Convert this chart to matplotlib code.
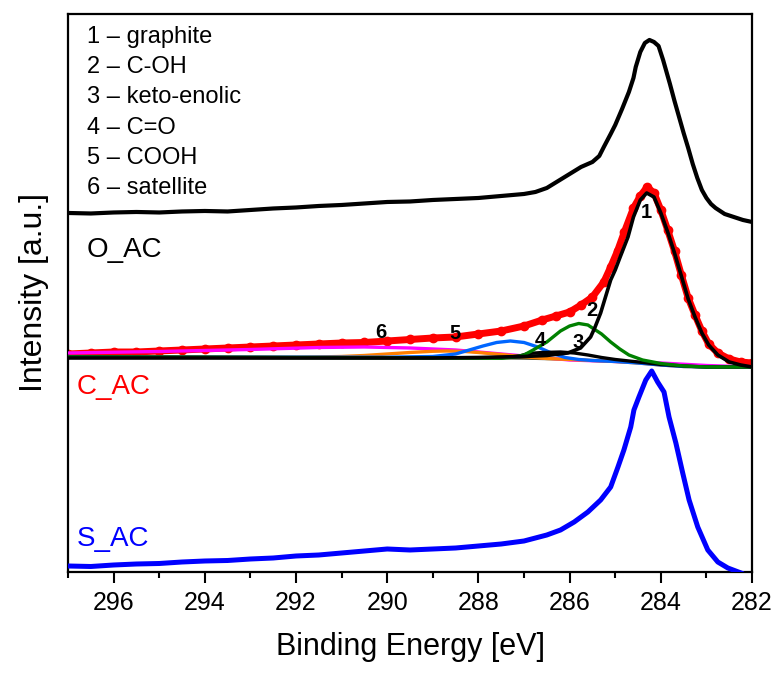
import matplotlib
matplotlib.use("Agg")
import matplotlib.pyplot as plt
from matplotlib.ticker import MultipleLocator

plt.rcParams['font.family'] = ['Liberation Sans', 'DejaVu Sans']

# ---- O_AC spectrum (C 1s), raw intensity and stacking offset ----
E_O = [297.0, 296.5, 296.0, 295.5, 295.0, 294.5, 294.0, 293.5, 293.0, 292.5, 292.0, 291.5,
       291.0, 290.5, 290.0, 289.5, 289.0, 288.5, 288.0, 287.5, 287.0, 286.75, 286.5, 286.25,
       286.0, 285.75, 285.5, 285.35, 285.25, 285.1, 285.0, 284.85, 284.7, 284.6, 284.55,
       284.45, 284.35, 284.25, 284.15, 284.05, 283.95, 283.8, 283.7, 283.6, 283.5, 283.4,
       283.3, 283.2, 283.1, 283.0, 282.9, 282.8, 282.6, 282.4, 282.2, 282.0]
I_O = [9, 8.5, 9.5, 10, 9.5, 10.5, 11, 10.5, 12, 13.5, 14.5, 16, 17, 18.5, 20, 20.5, 22, 23,
       24, 26, 28, 30, 34, 41, 48, 55, 60, 66, 75, 88, 97, 113, 130, 144, 155, 170, 179, 182,
       180, 176, 162, 138, 121, 105, 89, 74, 58, 44, 32, 24, 18, 14, 8, 5, 2, 0]
OFFSET_O = 350

# ---- C_AC measured points ----
E_C = [297.0, 296.5, 296.0, 295.5, 295.0, 294.5, 294.0, 293.5, 293.0, 292.5, 292.0, 291.5,
       291.0, 290.5, 290.0, 289.5, 289.0, 288.5, 288.0, 287.5, 287.0, 286.6, 286.3, 286.0,
       285.75, 285.5, 285.25, 285.1, 284.95, 284.8, 284.6, 284.45, 284.3, 284.15, 284.0,
       283.85, 283.7, 283.55, 283.4, 283.25, 283.1, 282.95, 282.75, 282.5, 282.25, 282.0]
I_C = [13, 14, 15, 15, 16, 17, 18, 19, 20, 21, 22, 23, 24, 24.5, 26, 27.5, 29, 30, 33, 36,
       41, 47, 51, 55, 62, 70, 85, 100, 116, 135, 159, 171, 180, 174, 157, 137, 116, 92, 69,
       52, 36, 23, 14, 8, 5, 4]
OFFSET_C = 205

# ---- C_AC fitted components (on top of background) ----
E_bg = [297.0, 290.0, 288.0, 287.0, 286.0, 285.5, 285.0, 284.5, 284.0, 283.5, 283.0, 282.0]
I_bg = [10, 9.5, 9, 8.5, 7.5, 6.5, 5.5, 4, 2, 0.5, 0, 0]

E_graphite = [297.0, 289.0, 288.0, 287.5, 287.0, 286.5, 286.04, 285.76, 285.54, 285.45, 285.32,
              285.2, 285.1, 285.0, 284.9, 284.72, 284.6, 284.45, 284.31, 284.15, 284.0, 283.85,
              283.7, 283.55, 283.4, 283.25, 283.1, 282.95, 282.75, 282.5, 282.25, 282.0]
I_graphite = [9, 9, 9.5, 10, 10.5, 11.5, 14, 19, 30, 39, 54, 72, 87, 97, 109, 130, 150, 167,
              174, 170, 154, 135, 114, 91, 68, 50, 34, 22, 12, 5, 2, 0]

E_COH = [297.0, 288.0, 287.5, 287.2, 287.0, 286.8, 286.5, 286.2, 286.0, 285.8, 285.6, 285.3,
         285.1, 284.9, 284.7, 284.4, 284.0, 283.5, 283.0, 282.0]
I_COH = [10, 9, 8.7, 10, 12, 17, 25, 36, 41, 43.5, 42, 33, 25, 18, 12, 7, 3.5, 1, 0, 0]

E_keto = [297.0, 288.0, 287.5, 287.1, 286.9, 286.6, 286.2, 285.9, 285.6, 285.3, 285.0, 284.7,
          284.3, 284.0, 283.5, 283.0, 282.0]
I_keto = [10, 9, 9.2, 11, 13.5, 14.5, 15, 14, 12, 9.5, 7.5, 6, 4, 2.5, 1, 0, 0]

E_CO = [297.0, 290.0, 289.0, 288.5, 288.2, 287.9, 287.6, 287.3, 287.0, 286.7, 286.4, 286.1,
        285.8, 285.5, 285.0, 284.5, 284.0, 283.5, 283.0, 282.0]
I_CO = [10, 9.8, 10.5, 13, 17, 21, 24.5, 26, 24.5, 20, 14, 9.5, 7.5, 6.5, 5.5, 4, 2, 0.5, 0, 0]

E_COOH = [297.0, 292.0, 291.0, 290.5, 290.0, 289.5, 289.0, 288.7, 288.3, 288.0, 287.5, 287.0,
          286.5, 286.0, 285.5, 285.0, 284.5, 284.0, 283.5, 283.0, 282.0]
I_COOH = [10, 9.7, 10.5, 11.5, 13, 14.5, 15.7, 16, 15.5, 14.5, 12.5, 10.2, 8.5, 7.5, 6.5, 5.5,
          4, 2, 0.5, 0, 0]

E_sat = [297.0, 295.0, 293.0, 291.5, 290.5, 289.5, 288.5, 287.5, 286.5, 286.0, 285.0, 284.0,
         283.0, 282.0]
I_sat = [14, 15.5, 17.5, 19.5, 20, 19, 17, 13, 9, 7, 5.5, 4, 1.5, 0]

# ---- S_AC spectrum ----
E_S = [297.0, 296.5, 296.0, 295.5, 295.0, 294.5, 294.0, 293.5, 293.0, 292.5, 292.0, 291.5,
       291.0, 290.5, 290.0, 289.5, 289.0, 288.5, 288.0, 287.5, 287.0, 286.5, 286.2, 285.9,
       285.6, 285.32, 285.1, 284.94, 284.81, 284.66, 284.59, 284.48, 284.33, 284.2, 284.07,
       283.93, 283.82, 283.67, 283.52, 283.38, 283.19, 282.97, 282.75, 282.53, 282.24]
I_S = [6, 5.5, 7, 8, 8.5, 10, 11, 11.5, 13, 14, 16, 17, 19, 21, 23, 22, 23, 24, 26, 28, 31,
       37, 42, 50, 60, 72, 85, 105, 122, 145, 162, 175, 192, 201, 190, 180, 155, 129, 99, 72,
       45, 22, 10, 4, -1]
OFFSET_S = 0

legend_lines = ["1 – graphite", "2 – C-OH", "3 – keto-enolic", "4 – C=O", "5 – COOH",
                "6 – satellite"]

# peak numbers: (label, energy, height)
peak_tags = [("1", 284.31, 359), ("2", 285.52, 261), ("3", 285.82, 229),
             ("4", 286.64, 231), ("5", 288.51, 238), ("6", 290.15, 239)]


def shifted(values, offset):
    return [v + offset for v in values]


fig = plt.figure(figsize=(7.81, 6.75), dpi=100)
ax = fig.add_axes([0.0871, 0.1526, 0.8758, 0.8267])

# O_AC
ax.plot(E_O, shifted(I_O, OFFSET_O), color='black', lw=3.0, zorder=3,
        solid_joinstyle='round')

# C_AC data
ax.plot(E_C, shifted(I_C, OFFSET_C), color='red', lw=5, marker='o', ms=6,
        mec='red', mfc='red', zorder=2, solid_capstyle='round', solid_joinstyle='round')

# C_AC components
comp_style = [
    (E_bg, I_bg, '#4d4d33', 1.8),
    (E_sat, I_sat, '#ff00ff', 2.4),
    (E_COOH, I_COOH, '#ff8000', 2.4),
    (E_CO, I_CO, '#0066ff', 2.4),
    (E_keto, I_keto, 'black', 2.4),
    (E_COH, I_COH, '#008000', 2.4),
    (E_graphite, I_graphite, 'black', 2.6),
]
for e, i, c, w in comp_style:
    ax.plot(e, shifted(i, OFFSET_C), color=c, lw=w, zorder=3, solid_joinstyle='round')

# S_AC
ax.plot(E_S, shifted(I_S, OFFSET_S), color='#0000ff', lw=3.6, zorder=3,
        solid_joinstyle='round')

for tag, e, h in peak_tags:
    ax.text(e, h, tag, fontsize=14.5, fontweight='bold', ha='center', va='center', zorder=5)

ax.text(296.59, 322, "O_AC", fontsize=20, color='black', ha='left', va='center')
ax.text(296.81, 185, "C_AC", fontsize=20, color='red', ha='left', va='center')
ax.text(296.81, 33, "S_AC", fontsize=20, color='#0000ff', ha='left', va='center')

ys = [0.9588, 0.905, 0.851, 0.796, 0.742, 0.688]
for txt, y in zip(legend_lines, ys):
    ax.text(0.0278, y, txt, transform=ax.transAxes, fontsize=17, ha='left', va='center')

ax.set_xlim(297, 282)
ax.set_ylim(0, 558)
ax.xaxis.set_major_locator(MultipleLocator(2))
ax.xaxis.set_minor_locator(MultipleLocator(1))
ax.set_yticks([])
ax.tick_params(axis='x', which='major', direction='out', length=8, width=1.5,
               labelsize=18, pad=6)
ax.tick_params(axis='x', which='minor', direction='out', length=4.5, width=1.5)
for s in ax.spines.values():
    s.set_linewidth(1.6)

ax.set_xlabel("Binding Energy [eV]", fontsize=22, labelpad=12)
ax.set_ylabel("Intensity [a.u.]", fontsize=23, labelpad=14)

fig.savefig("out.png", dpi=100)
